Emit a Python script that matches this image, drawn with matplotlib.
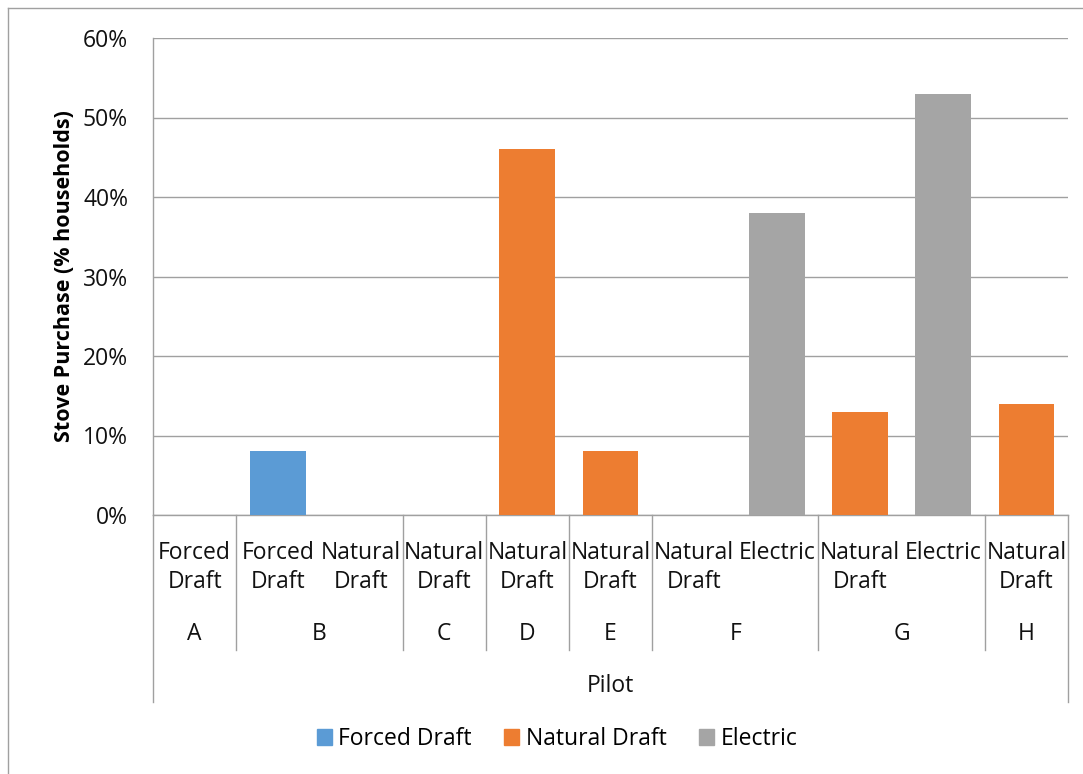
import matplotlib.pyplot as plt
import matplotlib.transforms as mtransforms
from matplotlib.lines import Line2D
from matplotlib.patches import Patch
import numpy as np

# purchase share per pilot / stove type (percent of households)
pilots = ['A', 'B', 'B', 'C', 'D', 'E', 'F', 'F', 'G', 'G', 'H']
stove_types = ['Forced Draft', 'Forced Draft', 'Natural Draft', 'Natural Draft',
               'Natural Draft', 'Natural Draft', 'Natural Draft', 'Electric',
               'Natural Draft', 'Electric', 'Natural Draft']
purchase = [0, 8, 0, 0, 46, 8, 0, 38, 13, 53, 14]

series = ['Forced Draft', 'Natural Draft', 'Electric']
colors = {'Forced Draft': '#5B9BD5', 'Natural Draft': '#ED7D31', 'Electric': '#A5A5A5'}
yticks = [0, 10, 20, 30, 40, 50, 60]

W, H = 1083, 774
FS = 16.5
plt.rcParams['font.family'] = ['Open Sans', 'DejaVu Sans']
fig = plt.figure(figsize=(W / 100, H / 100), dpi=100)
ax = fig.add_axes([153 / W, 1 - 515 / H, (1068 - 153) / W, (515 - 38) / H])

x = np.arange(len(purchase))
for s in series:
    vals = [v if t == s else 0 for v, t in zip(purchase, stove_types)]
    ax.bar(x, vals, width=0.67, color=colors[s], zorder=3)

ax.set_xlim(-0.5, len(purchase) - 0.5)
ax.set_ylim(0, 60)
ax.set_yticks(yticks)
ax.set_yticklabels(['%d%%' % t for t in yticks], fontsize=FS, color='#111111')
ax.set_xticks([])
ax.tick_params(axis='y', length=0, pad=18)
ax.grid(axis='y', color='#A0A0A0', linewidth=1.0, zorder=0)
for side in ['top', 'right']:
    ax.spines[side].set_visible(False)
ax.spines['left'].set_color('#A0A0A0')
ax.spines['bottom'].set_color('#A0A0A0')
ax.spines['left'].set_linewidth(1.0)
ax.spines['bottom'].set_linewidth(1.0)

ax.set_ylabel('Stove Purchase (% households)', fontsize=15.5, fontweight='bold', labelpad=6)

trans = mtransforms.blended_transform_factory(ax.transData, ax.transAxes)
def ypos(px):
    return (515 - px) / (515 - 38)

# stove type labels under each bar
for xi, t in zip(x, stove_types):
    ax.text(xi, ypos(541), t.replace(' ', '\n'), transform=trans, ha='center', va='top',
            fontsize=FS, linespacing=1.3, color='#111111')

# pilot group labels and separators
bounds = [-0.5]
groups = []
for i, p in enumerate(pilots):
    if i == 0 or p != pilots[i - 1]:
        groups.append([p, i, i])
        if i > 0:
            bounds.append(i - 0.5)
    else:
        groups[-1][2] = i
bounds.append(len(pilots) - 0.5)

for p, a, b in groups:
    ax.text((a + b) / 2, ypos(634), p, transform=trans, ha='center', va='center',
            fontsize=FS, color='#111111')

for bx in bounds:
    end = 702 if bx in (bounds[0], bounds[-1]) else 650
    ax.add_line(Line2D([bx, bx], [0, ypos(end)], transform=trans, color='#A0A0A0',
                       linewidth=1.0, clip_on=False))

ax.text(0.5, ypos(686), 'Pilot', transform=ax.transAxes, ha='center', va='center',
        fontsize=FS, color='#111111')

handles = [Patch(color=colors[s], label=s) for s in series]
fig.legend(handles=handles, loc='center', bbox_to_anchor=(557 / W, 1 - 739 / H), ncol=3,
           frameon=False, fontsize=FS, handlelength=0.65, handleheight=0.65,
           handletextpad=0.3, columnspacing=1.4)

# chart area border (top and left edges)
fig.add_artist(Line2D([8 / W, 1], [1 - 8 / H, 1 - 8 / H], transform=fig.transFigure,
                      color='#A0A0A0', linewidth=1.0))
fig.add_artist(Line2D([8 / W, 8 / W], [1 - 8 / H, 0], transform=fig.transFigure,
                      color='#A0A0A0', linewidth=1.0))

fig.savefig('out.png', dpi=100)
